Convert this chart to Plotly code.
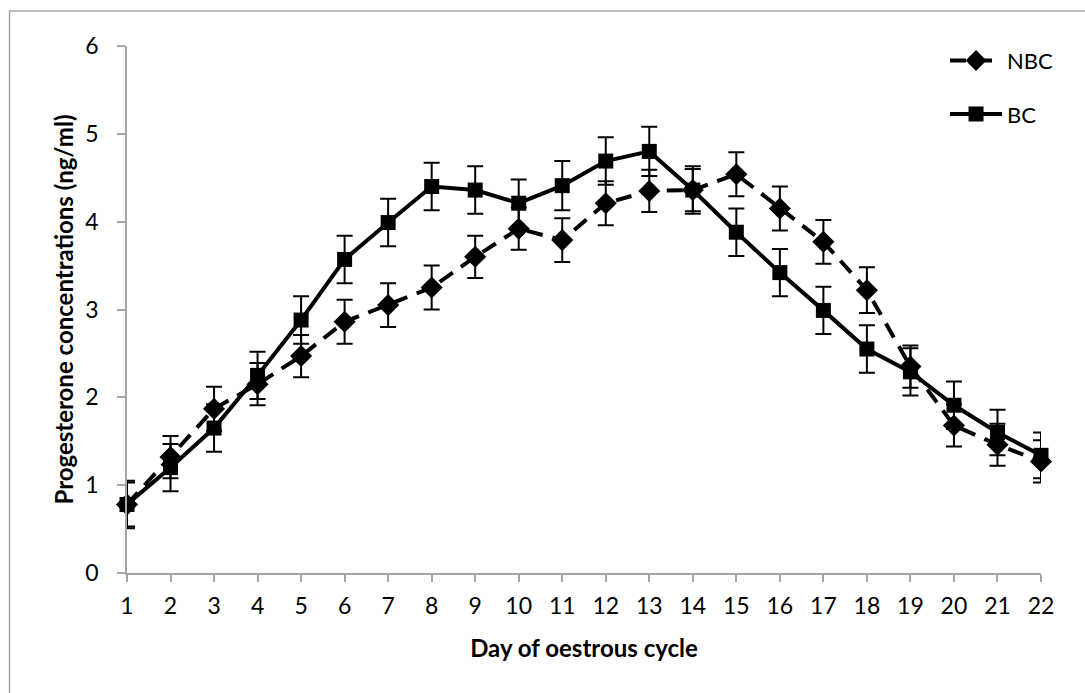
import plotly.graph_objects as go

# Day of the oestrous cycle
days = list(range(1, 23))

# Mean progesterone (ng/ml) and error, non-breeding cows (NBC)
nbc_mean = [0.78, 1.32, 1.87, 2.15, 2.47, 2.86, 3.05, 3.25, 3.60, 3.92, 3.79, 4.21,
            4.35, 4.36, 4.54, 4.15, 3.77, 3.22, 2.35, 1.68, 1.46, 1.27]
nbc_err = [0.25, 0.24, 0.25, 0.24, 0.24, 0.25, 0.25, 0.25, 0.24, 0.24, 0.25, 0.25,
           0.24, 0.24, 0.25, 0.25, 0.25, 0.26, 0.24, 0.24, 0.24, 0.24]

# Mean progesterone (ng/ml) and error, breeding cows (BC)
bc_mean = [0.78, 1.20, 1.65, 2.25, 2.88, 3.57, 3.99, 4.40, 4.36, 4.21, 4.41, 4.69,
           4.80, 4.36, 3.88, 3.42, 2.99, 2.55, 2.29, 1.91, 1.60, 1.34]
bc_err = [0.27, 0.27, 0.27, 0.27, 0.27, 0.27, 0.27, 0.27, 0.27, 0.27, 0.28, 0.27,
          0.28, 0.27, 0.27, 0.27, 0.27, 0.27, 0.27, 0.27, 0.26, 0.26]

FONT = "Lato"
AXIS_GREY = "#a6a6a6"

fig = go.Figure()

fig.add_trace(go.Scatter(
    x=days, y=nbc_mean, name="NBC", mode="lines+markers",
    legendgroup="nbc",
    line=dict(color="black", width=4, dash="16px,10px"),
    marker=dict(symbol="diamond", size=17, color="black"),
    error_y=dict(type="data", array=nbc_err, visible=True,
                 color="black", thickness=2, width=8),
    cliponaxis=False,
))

fig.add_trace(go.Scatter(
    x=days, y=bc_mean, name="BC", mode="lines+markers",
    legendgroup="bc",
    line=dict(color="black", width=4),
    marker=dict(symbol="square", size=15, color="black"),
    error_y=dict(type="data", array=bc_err, visible=True,
                 color="black", thickness=2, width=8),
    cliponaxis=False,
))

fig.update_layout(
    width=1085, height=693,
    margin=dict(l=127, r=44, t=46, b=120),
    paper_bgcolor="white", plot_bgcolor="white",
    font=dict(family=FONT, size=23, color="black"),
    showlegend=True,
    legend=dict(x=0.895, y=1.012, xanchor="left", yanchor="top",
                bgcolor="rgba(0,0,0,0)", tracegroupgap=22,
                itemwidth=52,
                font=dict(family=FONT, size=22)),
    xaxis=dict(
        range=[1, 22], tickmode="linear", tick0=1, dtick=1,
        showline=True, linecolor=AXIS_GREY, linewidth=1.5,
        ticks="outside", ticklen=7, tickcolor=AXIS_GREY, tickwidth=1.5,
        showgrid=False, zeroline=False,
        ticklabelstandoff=5,
        tickfont=dict(family=FONT, size=23),
        title=dict(text="<b>Day of oestrous cycle</b>", standoff=22,
                   font=dict(family=FONT, size=24)),
    ),
    yaxis=dict(
        range=[0, 6], tickmode="linear", tick0=0, dtick=1,
        showline=True, linecolor=AXIS_GREY, linewidth=1.5,
        ticks="outside", ticklen=8, tickcolor=AXIS_GREY, tickwidth=1.5,
        showgrid=False, zeroline=False,
        ticklabelstandoff=14,
        tickfont=dict(family=FONT, size=23),
        title=dict(text="<b>Progesterone concentrations (ng/ml)</b>", standoff=5,
                   font=dict(family=FONT, size=24)),
    ),
    shapes=[dict(
        type="rect", xref="paper", yref="paper",
        x0=(9.5 - 127) / 914, x1=1.06,
        y0=-0.25, y1=(573 - 11) / 527,
        line=dict(color=AXIS_GREY, width=1.5), fillcolor="rgba(0,0,0,0)",
        layer="below",
    )],
)

fig.write_html("out.html")
